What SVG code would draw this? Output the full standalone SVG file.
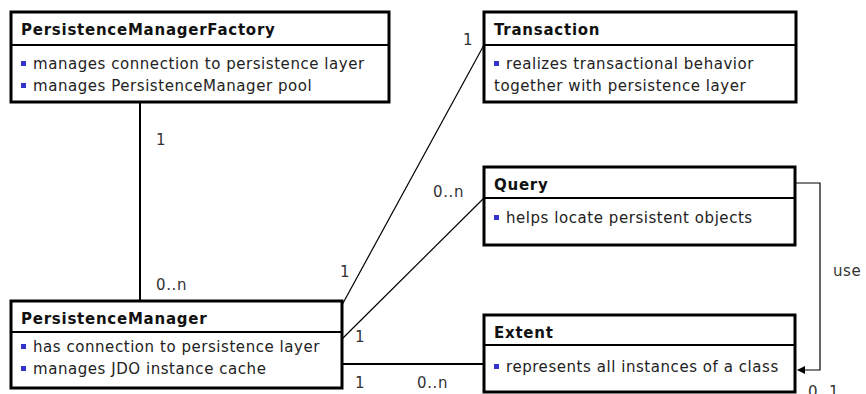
<svg xmlns="http://www.w3.org/2000/svg" width="866" height="394" viewBox="0 0 866 394">
<style>
.box{fill:#fff;stroke:#000;stroke-width:3}
.div{stroke:#000;stroke-width:2}
.t{font-family:"DejaVu Sans",Verdana,sans-serif;font-size:15px;font-weight:bold;fill:#111;letter-spacing:0.75px}
.b{font-family:"DejaVu Sans",Verdana,sans-serif;font-size:15px;fill:#222;letter-spacing:0.55px}
.l{font-family:"DejaVu Sans",Verdana,sans-serif;font-size:15px;fill:#333;letter-spacing:0.6px}
.bul{fill:#3333cc}
.c{stroke:#000;stroke-width:1.2;fill:none}
</style>
<defs>
<marker id="arr" markerWidth="8" markerHeight="8" refX="7" refY="4" orient="auto" markerUnits="userSpaceOnUse">
<path d="M0,0 L8,4 L0,8 z" fill="#000"/>
</marker>
</defs>
<g id="connectors">
<line class="c" x1="140" y1="102" x2="140" y2="300" style="stroke-width:2"/>
<line class="c" x1="342" y1="305" x2="484" y2="45"/>
<line class="c" x1="342" y1="339" x2="484" y2="198"/>
<line class="c" x1="342" y1="364" x2="484" y2="364" style="stroke-width:2"/>
<polyline class="c" points="796,183 820,183 820,370 798,370" marker-end="url(#arr)"/>
<text class="l" x="156" y="145">1</text>
<text class="l" x="156" y="290">0..n</text>
<text class="l" x="463" y="45">1</text>
<text class="l" x="340" y="277">1</text>
<text class="l" x="433" y="197">0..n</text>
<text class="l" x="355" y="342">1</text>
<text class="l" x="355" y="388">1</text>
<text class="l" x="417" y="388">0..n</text>
<text class="l" x="833" y="276">use</text>
<text class="l" x="808" y="397">0..1</text>
</g>
<g id="PersistenceManagerFactory">
<rect class="box" x="11" y="12" width="378" height="90"/>
<line class="div" x1="11" y1="45" x2="389" y2="45"/>
<text class="t" x="21" y="35">PersistenceManagerFactory</text>
<rect class="bul" x="21" y="61" width="5" height="5"/>
<text class="b" x="33" y="69">manages connection to persistence layer</text>
<rect class="bul" x="21" y="83" width="5" height="5"/>
<text class="b" x="33" y="91">manages PersistenceManager pool</text>
</g>
<g id="Transaction">
<rect class="box" x="484" y="12" width="312" height="90"/>
<line class="div" x1="484" y1="45" x2="796" y2="45"/>
<text class="t" x="494" y="35">Transaction</text>
<rect class="bul" x="494" y="61" width="5" height="5"/>
<text class="b" x="506" y="69">realizes transactional behavior</text>
<text class="b" x="494" y="91">together with persistence layer</text>
</g>
<g id="Query">
<rect class="box" x="484" y="167" width="311" height="78"/>
<line class="div" x1="484" y1="198" x2="795" y2="198"/>
<text class="t" x="494" y="190">Query</text>
<rect class="bul" x="494" y="215" width="5" height="5"/>
<text class="b" x="506" y="223">helps locate persistent objects</text>
</g>
<g id="Extent">
<rect class="box" x="484" y="315" width="311" height="77"/>
<line class="div" x1="484" y1="345" x2="795" y2="345"/>
<text class="t" x="494" y="338">Extent</text>
<rect class="bul" x="494" y="364" width="5" height="5"/>
<text class="b" x="506" y="372">represents all instances of a class</text>
</g>
<g id="PersistenceManager">
<rect class="box" x="11" y="301" width="331" height="87"/>
<line class="div" x1="11" y1="332" x2="342" y2="332"/>
<text class="t" x="21" y="324">PersistenceManager</text>
<rect class="bul" x="21" y="344" width="5" height="5"/>
<text class="b" x="33" y="352">has connection to persistence layer</text>
<rect class="bul" x="21" y="366" width="5" height="5"/>
<text class="b" x="33" y="374">manages JDO instance cache</text>
</g>
</svg>
